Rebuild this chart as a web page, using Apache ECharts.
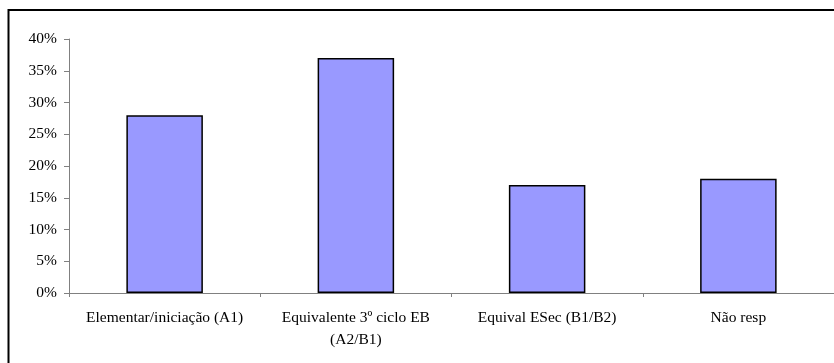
<!DOCTYPE html>
<html><head><meta charset="utf-8">
<script src="https://cdn.jsdelivr.net/npm/echarts@6/dist/echarts.min.js"></script>
<style>html,body{margin:0;padding:0;background:#fff}#c{width:834px;height:363px}</style>
</head><body><div id="c"></div>
<script>
const categories = ['Elementar/iniciação (A1)', 'Equivalente 3º ciclo EB\n(A2/B1)', 'Equival ESec (B1/B2)', 'Não resp'];
const values = [0.28, 0.37, 0.17, 0.18];
const yTicks = {min: 0, max: 0.4, interval: 0.05};

const chart = echarts.init(document.getElementById('c'), null, {renderer: 'canvas'});
const font = '"Liberation Serif", "Times New Roman", serif';
chart.setOption({
  animation: false,
  backgroundColor: '#fff',
  graphic: [{
    type: 'rect', shape: {x: 8.5, y: 10, width: 840, height: 370},
    style: {fill: 'none', stroke: '#000', lineWidth: 2}, silent: true, z: 10
  }],
  grid: {left: 69, top: 39, right: -1, bottom: 70, containLabel: false},
  xAxis: {
    type: 'category', data: categories, boundaryGap: true,
    axisLine: {lineStyle: {color: '#808080', width: 1}},
    axisTick: {show: true, length: 4, lineStyle: {color: '#808080'}},
    axisLabel: {color: '#000', fontFamily: font, fontSize: 15.5, margin: 14, lineHeight: 22, interval: 0}
  },
  yAxis: {
    type: 'value', min: yTicks.min, max: yTicks.max, interval: yTicks.interval,
    splitLine: {show: false},
    axisLine: {show: true, lineStyle: {color: '#808080', width: 1}},
    axisTick: {show: true, length: 5, lineStyle: {color: '#808080'}},
    axisLabel: {color: '#000', fontFamily: font, fontSize: 15.5, margin: 12,
      formatter: v => Math.round(v * 100) + '%'}
  },
  series: [{
    type: 'bar', data: values, barWidth: '40%',
    itemStyle: {color: '#9999FF', borderColor: '#000', borderWidth: 1.5}
  }]
});
</script></body></html>
